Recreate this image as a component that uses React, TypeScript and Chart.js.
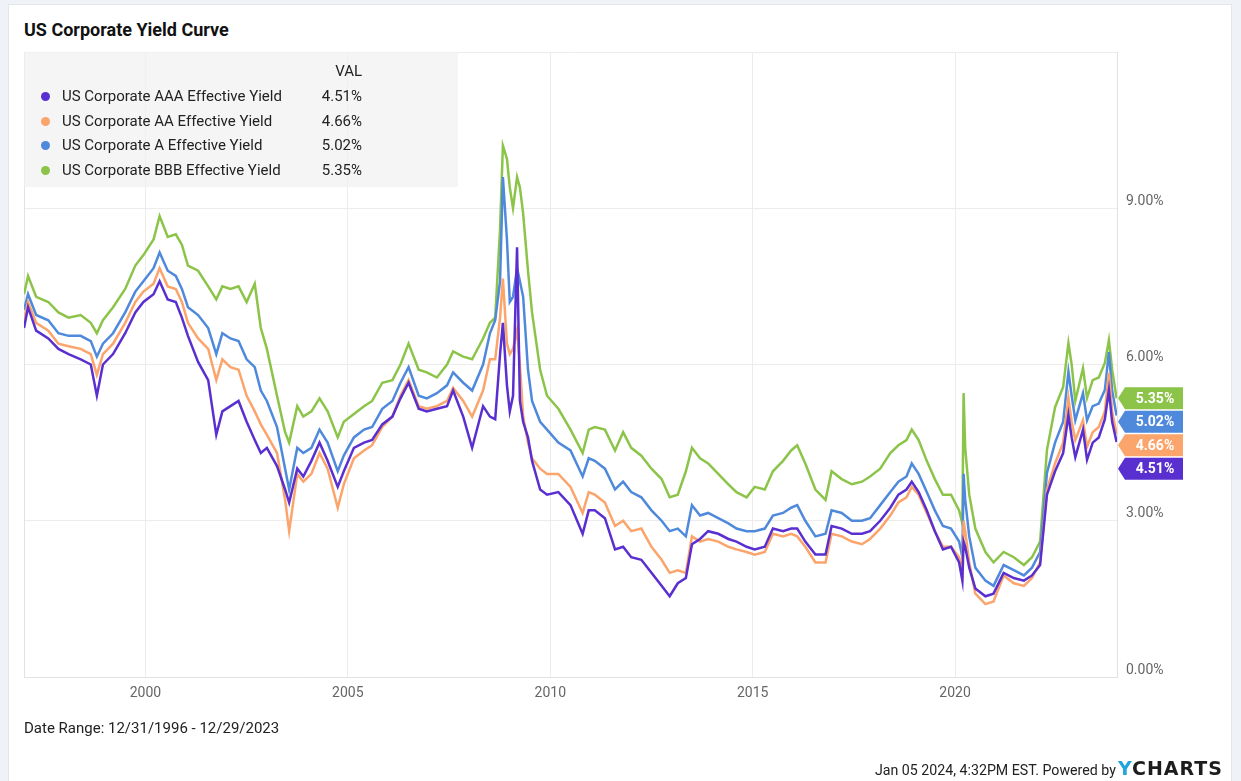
import React, { useEffect, useRef } from "react";
import { Chart, registerables } from "chart.js";

Chart.register(...registerables);

// Dates as decimal years (12/31/1996 .. 12/29/2023)
const dates = [
  1997.0, 1997.1, 1997.3, 1997.6, 1997.85,
  1998.1, 1998.4, 1998.65, 1998.8, 1998.95,
  1999.2, 1999.5, 1999.75, 1999.95,
  2000.2, 2000.35, 2000.55, 2000.75, 2000.9,
  2001.05, 2001.3, 2001.55, 2001.75, 2001.9,
  2002.1, 2002.3, 2002.5, 2002.7, 2002.85,
  2003.0, 2003.25, 2003.45, 2003.55, 2003.75, 2003.9,
  2004.1, 2004.3, 2004.5, 2004.75, 2004.9,
  2005.15, 2005.4, 2005.6, 2005.85,
  2006.1, 2006.3, 2006.5, 2006.75, 2006.95,
  2007.2, 2007.45, 2007.6, 2007.85,
  2008.07, 2008.34, 2008.51, 2008.64, 2008.76, 2008.83, 2008.93,
  2009.0, 2009.08, 2009.18, 2009.25, 2009.33, 2009.45, 2009.55, 2009.75, 2009.92,
  2010.2, 2010.5, 2010.8, 2010.95,
  2011.1, 2011.35, 2011.6, 2011.8,
  2012.0, 2012.25, 2012.5, 2012.75, 2012.95,
  2013.15, 2013.35, 2013.5, 2013.7, 2013.9,
  2014.15, 2014.4, 2014.6, 2014.85,
  2015.05, 2015.3, 2015.5, 2015.75, 2015.95,
  2016.1, 2016.3, 2016.55, 2016.8, 2016.95,
  2017.2, 2017.45, 2017.7, 2017.9,
  2018.15, 2018.4, 2018.6, 2018.8, 2018.93,
  2019.1, 2019.3, 2019.5, 2019.7, 2019.9,
  2020.1, 2020.18, 2020.21, 2020.25, 2020.35, 2020.5, 2020.75, 2020.95,
  2021.2, 2021.45, 2021.7, 2021.9,
  2022.1, 2022.27, 2022.47, 2022.67, 2022.8, 2022.88, 2022.97,
  2023.16, 2023.26, 2023.4, 2023.55, 2023.7, 2023.8, 2023.88, 2023.99,
];

const aaaYield = [
  6.7, 7.1, 6.65, 6.5, 6.3,
  6.2, 6.1, 6.0, 5.4, 6.0,
  6.2, 6.6, 7.0, 7.2,
  7.35, 7.6, 7.25, 7.2, 6.9,
  6.55, 6.05, 5.7, 4.65, 5.1,
  5.2, 5.3, 4.9, 4.55, 4.3,
  4.4, 4.05, 3.6, 3.35, 4.0, 3.85,
  4.15, 4.5, 4.15, 3.65, 3.95,
  4.4, 4.5, 4.55, 4.85,
  5.0, 5.35, 5.65, 5.15, 5.1,
  5.15, 5.2, 5.5, 5.0,
  4.4, 5.2, 5.0, 4.95, 6.2, 6.8, 5.6,
  5.1, 5.4, 8.25, 5.3, 4.9, 4.6, 4.15, 3.6, 3.5,
  3.55, 3.3, 2.75, 3.2,
  3.2, 3.05, 2.45, 2.5,
  2.3, 2.25, 2.0, 1.75, 1.55,
  1.8, 1.9, 2.55, 2.65, 2.8,
  2.75, 2.65, 2.6, 2.5,
  2.45, 2.5, 2.85, 2.8, 2.85,
  2.85, 2.6, 2.35, 2.35, 2.9,
  2.85, 2.75, 2.75, 2.8,
  3.0, 3.25, 3.5, 3.6, 3.75,
  3.55, 3.2, 2.8, 2.45, 2.5,
  2.2, 1.85, 2.6, 2.5, 2.1, 1.7, 1.55, 1.6,
  2.0, 1.9, 1.85, 1.95,
  2.15, 3.5, 3.95, 4.3, 5.03, 4.6, 4.22,
  4.75, 4.17, 4.5, 4.6, 4.95, 5.51, 4.9, 4.51,
];

const aaYield = [
  6.85, 7.2, 6.8, 6.65, 6.4,
  6.35, 6.3, 6.2, 5.8, 6.2,
  6.4, 6.8, 7.2, 7.4,
  7.55, 7.85, 7.5, 7.45, 7.2,
  6.8, 6.5, 6.3, 5.7, 6.1,
  5.95, 5.9, 5.4, 5.1, 4.85,
  4.65, 4.3, 3.4, 2.8, 3.9, 3.75,
  3.9, 4.3, 4.0, 3.25, 3.7,
  4.2, 4.35, 4.45, 4.8,
  5.0, 5.4, 5.7, 5.2, 5.15,
  5.2, 5.3, 5.55, 5.3,
  5.0, 5.5, 6.1, 6.1, 6.9, 7.65, 6.4,
  6.2, 6.3, 6.65, 6.0, 5.0, 4.5, 4.2, 4.0, 3.9,
  3.9, 3.65, 3.15, 3.55,
  3.5, 3.35, 2.9, 3.0,
  2.8, 2.85, 2.5, 2.25, 2.0,
  2.05, 2.0, 2.7, 2.6, 2.65,
  2.6, 2.5, 2.45, 2.4,
  2.35, 2.4, 2.75, 2.7, 2.75,
  2.7, 2.5, 2.2, 2.2, 2.75,
  2.7, 2.6, 2.55, 2.65,
  2.85, 3.1, 3.35, 3.45, 3.65,
  3.5, 3.15, 2.8, 2.5, 2.5,
  2.3, 2.0, 3.0, 2.8, 2.2, 1.6, 1.4, 1.45,
  1.95, 1.8, 1.75, 1.9,
  2.2, 3.6, 4.1, 4.5, 5.36, 4.9, 4.55,
  4.93, 4.42, 4.7, 4.8, 5.1, 5.84, 5.1, 4.66,
];

const aYield = [
  7.05, 7.35, 6.95, 6.85, 6.6,
  6.55, 6.55, 6.45, 6.15, 6.4,
  6.6, 7.0, 7.4, 7.6,
  7.85, 8.15, 7.8, 7.7, 7.45,
  7.1, 6.95, 6.7, 6.2, 6.6,
  6.5, 6.45, 6.1, 5.95, 5.5,
  5.3, 4.8, 4.0, 3.6, 4.4, 4.3,
  4.4, 4.75, 4.5, 3.95, 4.25,
  4.6, 4.75, 4.8, 5.15,
  5.3, 5.65, 5.95, 5.4, 5.35,
  5.45, 5.6, 5.85, 5.65,
  5.5, 6.0, 6.6, 6.85, 7.6, 9.6, 8.4,
  7.2, 7.3, 7.85, 7.6, 7.3, 5.9, 5.3, 4.9, 4.75,
  4.5, 4.35, 3.85, 4.2,
  4.15, 4.0, 3.6, 3.75,
  3.55, 3.45, 3.2, 3.0, 2.8,
  2.85, 2.7, 3.3, 3.1, 3.15,
  3.05, 2.95, 2.85, 2.8,
  2.8, 2.85, 3.1, 3.15, 3.25,
  3.3, 3.0, 2.7, 2.75, 3.2,
  3.15, 3.0, 3.0, 3.05,
  3.3, 3.55, 3.75, 3.85, 4.1,
  3.9, 3.55, 3.2, 2.9, 2.85,
  2.6, 2.3, 3.9, 3.4, 2.7, 2.1, 1.85, 1.75,
  2.15, 2.05, 1.95, 2.1,
  2.4, 3.92, 4.5, 4.9, 5.86, 5.4, 4.93,
  5.45, 4.93, 5.2, 5.25, 5.51, 6.24, 5.5, 5.02,
];

const bbbYield = [
  7.35, 7.7, 7.3, 7.2, 7.0,
  6.9, 6.95, 6.8, 6.6, 6.85,
  7.1, 7.45, 7.9, 8.1,
  8.4, 8.85, 8.45, 8.5, 8.3,
  7.9, 7.8, 7.5, 7.25, 7.5,
  7.45, 7.5, 7.2, 7.55, 6.7,
  6.3, 5.4, 4.7, 4.5, 5.2, 5.0,
  5.1, 5.35, 5.1, 4.6, 4.9,
  5.05, 5.2, 5.3, 5.65,
  5.7, 6.0, 6.4, 5.9, 5.85,
  5.75, 6.0, 6.25, 6.15,
  6.1, 6.5, 6.8, 6.9, 8.6, 10.2, 9.95,
  9.4, 9.0, 9.6, 9.4, 8.9, 7.8, 7.0, 5.9, 5.4,
  5.15, 4.75, 4.3, 4.75,
  4.8, 4.75, 4.35, 4.7,
  4.4, 4.25, 4.0, 3.8, 3.45,
  3.5, 3.95, 4.4, 4.2, 4.1,
  3.9, 3.7, 3.55, 3.45,
  3.65, 3.6, 3.95, 4.15, 4.35,
  4.45, 4.1, 3.6, 3.4, 3.95,
  3.8, 3.7, 3.75, 3.85,
  4.0, 4.3, 4.45, 4.55, 4.75,
  4.55, 4.15, 3.8, 3.5, 3.5,
  3.2, 2.95, 5.45, 4.4, 3.5, 2.85, 2.4, 2.2,
  2.4, 2.3, 2.15, 2.3,
  2.6, 4.36, 5.18, 5.57, 6.41, 6.0, 5.3,
  5.93, 5.36, 5.7, 5.75, 6.03, 6.47, 5.9, 5.35,
];

const seriesNames = [
  "US Corporate AAA Effective Yield",
  "US Corporate AA Effective Yield",
  "US Corporate A Effective Yield",
  "US Corporate BBB Effective Yield",
];
const seriesColors = ["#5a2fd0", "#fba46c", "#4f89dc", "#8cc44a"];
const lastValues = ["4.51%", "4.66%", "5.02%", "5.35%"];
const xTickYears = [2000, 2005, 2010, 2015, 2020];
const yTickValues = [0, 3, 6, 9, 12];

const W = 1241;
const H = 781;
const FONT = "Roboto, 'Noto Sans', sans-serif";

const badgePlugin = {
  id: "badges",
  beforeDatasetsDraw(chart: any) {
    const { ctx, chartArea } = chart;
    ctx.save();
    ctx.strokeStyle = "#e2e2e2";
    ctx.lineWidth = 1;
    ctx.beginPath();
    ctx.moveTo(chartArea.left + 0.5, chartArea.top);
    ctx.lineTo(chartArea.left + 0.5, chartArea.bottom);
    ctx.stroke();
    ctx.restore();
  },
  afterDatasetsDraw(chart: any) {
    const { ctx, chartArea, scales } = chart;
    const items = chart.data.datasets.map((ds: any, i: number) => {
      const last = ds.data[ds.data.length - 1];
      return { y: scales.y.getPixelForValue(last.y), color: ds.borderColor, label: lastValues[i] };
    });
    items.sort((a: any, b: any) => a.y - b.y);
    const h = 22;
    const gap = 23.5;
    for (let i = 1; i < items.length; i++) {
      if (items[i].y < items[i - 1].y + gap) items[i].y = items[i - 1].y + gap;
    }
    ctx.save();
    const x0 = chartArea.right + 1;
    const x1 = x0 + 7;
    const x2 = x0 + 65;
    for (const it of items) {
      const y = it.y;
      ctx.fillStyle = it.color;
      ctx.beginPath();
      ctx.moveTo(x0, y);
      ctx.lineTo(x1, y - h / 2);
      ctx.lineTo(x2, y - h / 2);
      ctx.lineTo(x2, y + h / 2);
      ctx.lineTo(x1, y + h / 2);
      ctx.closePath();
      ctx.fill();
      ctx.fillStyle = "#ffffff";
      ctx.font = `bold 14px ${FONT}`;
      ctx.textAlign = "center";
      ctx.textBaseline = "middle";
      ctx.fillText(it.label, (x1 + x2) / 2 + 1, y + 1);
    }
    ctx.restore();
  },
};

export default function App() {
  const canvasRef = useRef<HTMLCanvasElement | null>(null);

  useEffect(() => {
    const canvas = canvasRef.current;
    if (!canvas) return;
    const series = [aaaYield, aaYield, aYield, bbbYield];
    const chart = new Chart(canvas, {
      type: "line",
      data: {
        datasets: series.map((vals, i) => ({
          label: seriesNames[i],
          data: vals.map((v, j) => ({ x: dates[j], y: v })),
          borderColor: seriesColors[i],
          backgroundColor: seriesColors[i],
          borderWidth: 2.5,
          pointRadius: 0,
          tension: 0,
          fill: false,
        })),
      },
      options: {
        responsive: false,
        animation: false,
        devicePixelRatio: 1,
        layout: { padding: { left: 24, top: 52, right: 0, bottom: 74 } },
        plugins: { legend: { display: false }, tooltip: { enabled: false } },
        scales: {
          x: {
            type: "linear",
            min: 1997.0,
            max: 2024.0,
            afterBuildTicks: (s: any) => {
              s.ticks = xTickYears.map((v) => ({ value: v }));
            },
            afterFit: (s: any) => {
              s.height = 30;
            },
            grid: { color: "#ececec", drawTicks: false },
            border: { color: "#e2e2e2" },
            ticks: {
              padding: 8,
              color: "#666666",
              font: { family: FONT, size: 14 },
              callback: (v: any) => String(v),
            },
          },
          y: {
            position: "right",
            min: 0,
            max: 12,
            afterBuildTicks: (s: any) => {
              s.ticks = yTickValues.map((v) => ({ value: v }));
            },
            afterFit: (s: any) => {
              s.width = W - 1117;
            },
            grid: { color: "#ececec", drawTicks: false },
            border: { color: "#e2e2e2" },
            ticks: {
              padding: 9,
              labelOffset: -7,
              color: "#666666",
              font: { family: FONT, size: 14 },
              callback: (v: any) => (v === 12 ? "" : Number(v).toFixed(2) + "%"),
            },
          },
        },
      },
      plugins: [badgePlugin],
    } as any);
    return () => chart.destroy();
  }, []);

  return (
    <div style={{ position: "relative", width: W, height: H, background: "#eff3f8", overflow: "hidden", fontFamily: FONT }}>
      <style>{`body{margin:0;}`}</style>
      <div
        style={{
          position: "absolute",
          left: 8,
          top: 4,
          width: 1224,
          height: 800,
          background: "#ffffff",
          border: "1px solid #e3e7ec",
          boxSizing: "border-box",
        }}
      />
      <div
        style={{
          position: "absolute",
          left: 24,
          top: 19,
          fontSize: 18,
          fontWeight: 700,
          color: "#111",
          whiteSpace: "nowrap",
        }}
      >
        US Corporate Yield Curve
      </div>
      <canvas ref={canvasRef} width={W} height={H} style={{ position: "absolute", left: 0, top: 0, width: W, height: H }} />
      <div
        style={{
          position: "absolute",
          left: 24,
          top: 52,
          width: 434,
          height: 135,
          background: "rgba(241,241,241,0.72)",
          color: "#222",
          fontSize: 15,
        }}
      >
        <div style={{ position: "absolute", right: 96, top: 10, lineHeight: "18px" }}>VAL</div>
        {seriesNames.map((n, i) => (
          <div key={n} style={{ position: "absolute", left: 0, top: 34 + i * 24.5, width: 434, height: 20, lineHeight: "20px" }}>
            <span
              style={{
                position: "absolute",
                left: 17,
                top: 6,
                width: 9,
                height: 9,
                borderRadius: "50%",
                background: seriesColors[i],
              }}
            />
            <span style={{ position: "absolute", left: 38, whiteSpace: "nowrap" }}>{n}</span>
            <span style={{ position: "absolute", right: 96 }}>{lastValues[i]}</span>
          </div>
        ))}
      </div>
      <div style={{ position: "absolute", left: 24, top: 719, fontSize: 15, color: "#222", whiteSpace: "nowrap" }}>
        Date Range: 12/31/1996 - 12/29/2023
      </div>
      <div
        style={{
          position: "absolute",
          right: 1241 - 1223,
          top: 757,
          whiteSpace: "nowrap",
          display: "flex",
          alignItems: "baseline",
          color: "#222",
        }}
      >
        <span style={{ fontSize: 14.2 }}>Jan 05 2024, 4:32PM EST. Powered by</span>
        <span
          style={{
            fontFamily: "'DejaVu Sans', sans-serif",
            fontWeight: 700,
            fontSize: 19,
            marginLeft: 2,
            letterSpacing: 1,
          }}
        >
          <span style={{ color: "#22a4dd" }}>Y</span>
          <span style={{ color: "#1d1d1d" }}>CHARTS</span>
        </span>
      </div>
    </div>
  );
}
